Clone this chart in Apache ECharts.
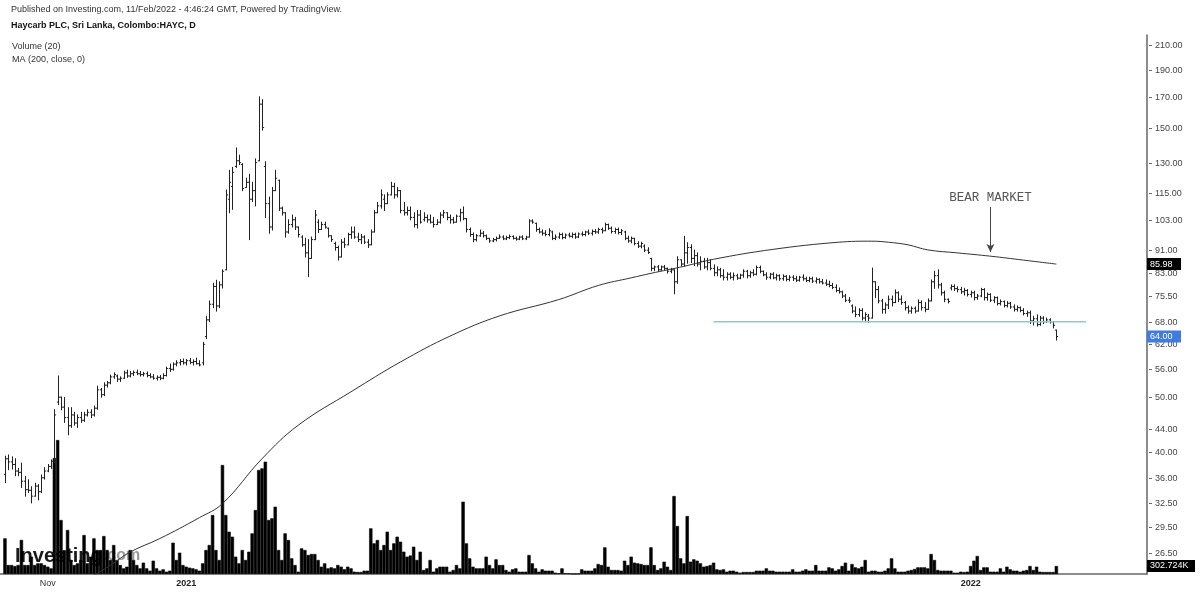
<!DOCTYPE html>
<html><head><meta charset="utf-8">
<script src="https://cdn.jsdelivr.net/npm/echarts@6/dist/echarts.min.js"></script>
<style>html,body{margin:0;padding:0;background:#fff}#c{width:1200px;height:593px}</style>
</head><body><div id="c"></div>
<script>
// ---------- DATA ----------
// daily OHLC bars [open, high, low, close], oldest first
const ohlc = [
[36.5,39.3,35.3,38.9],[38.9,39.5,37.2,38.4],[38.4,39.2,37.3,38.0],[38.0,38.9,36.3,37.0],[37.0,37.4,36.3,36.8],[36.8,38.2,34.6,35.5],[35.5,36.2,33.4,34.3],[34.3,35.7,33.9,34.2],[34.2,34.7,32.5,33.4],[33.4,35.2,33.4,34.8],
[34.8,35.0,32.9,34.0],[34.0,36.4,33.9,36.0],[36.0,37.5,35.8,37.0],[37.0,38.0,36.9,37.7],[37.7,38.7,37.4,38.5],[38.5,47.5,38.3,46.5],[49.0,54.5,48.5,50.0],[50.0,50.0,47.5,48.0],[48.0,49.9,45.1,46.0],[46.0,47.9,42.9,44.5],
[44.5,47.9,44.2,46.5],[46.5,47.0,44.6,45.0],[45.0,46.5,44.2,46.0],[46.0,47.0,45.1,45.5],[45.5,47.0,45.3,46.5],[46.5,47.5,46.3,47.0],[47.0,47.5,46.0,46.5],[46.5,48.2,46.3,47.8],[47.8,52.3,47.6,51.5],[51.5,51.8,50.0,50.5],
[50.5,53.0,50.3,52.5],[52.5,53.3,52.1,53.0],[53.0,54.7,52.8,54.3],[54.3,55.2,54.0,54.8],[54.5,54.7,53.3,53.8],[53.8,54.3,53.3,54.0],[54.0,55.6,54.0,55.2],[55.2,55.8,54.2,54.5],[54.5,55.5,54.3,55.0],[55.0,55.6,54.6,55.3],
[55.3,55.8,54.8,55.0],[55.0,55.5,54.5,54.8],[54.8,55.3,54.5,55.0],[55.0,55.4,54.3,54.6],[54.6,55.0,54.1,54.3],[54.3,54.8,53.8,54.0],[54.0,54.5,53.6,54.2],[54.2,54.6,53.7,54.0],[54.0,55.0,53.9,54.6],[54.6,56.5,54.5,56.2],
[56.2,57.2,55.5,56.0],[56.0,57.5,55.8,57.2],[57.2,58.0,56.8,57.5],[57.5,58.3,57.0,57.8],[57.8,58.4,57.2,57.5],[57.5,58.3,57.0,58.0],[58.0,58.5,57.3,57.6],[57.6,58.2,57.0,57.8],[57.8,58.6,57.2,57.3],[57.3,58.0,56.8,57.0],
[57.5,62.5,57.0,62.0],[64.0,69.5,63.5,68.5],[68.5,74.0,68.0,73.0],[73.0,79.5,72.0,78.5],[78.5,80.5,71.0,72.5],[72.5,80.0,72.0,79.0],[79.0,84.0,78.0,83.5],[84.0,116.3,84.0,114.0],[112.0,126.0,106.0,120.0],[118.0,127.5,107.5,125.0],
[128.0,138.0,127.5,131.0],[131.0,134.0,129.0,130.0],[129.0,129.5,116.0,117.0],[117.5,122.0,117.5,120.0],[120.0,124.0,95.0,112.0],[112.0,120.0,111.0,116.0],[116.0,132.0,109.0,130.0],[131.0,170.0,131.0,165.0],[165.0,168.0,148.5,150.0],[128.0,130.5,104.0,110.0],
[110.0,113.0,97.5,100.0],[100.0,117.5,98.8,116.0],[116.0,126.0,116.0,122.0],[121.0,121.0,107.0,108.0],[108.0,108.5,105.0,106.0],[106.0,106.0,96.0,98.0],[98.0,103.0,97.5,101.0],[101.0,105.0,100.0,103.0],[103.0,104.0,99.0,100.0],[100.0,100.0,96.0,97.0],
[96.0,96.5,92.5,93.0],[93.0,95.5,88.5,90.0],[90.0,95.0,81.7,88.0],[88.0,96.0,88.0,95.0],[95.0,107.0,95.0,105.0],[102.0,103.0,97.8,99.0],[99.0,102.0,99.0,101.0],[101.0,102.0,99.6,100.0],[99.5,99.6,96.0,96.5],[96.5,96.5,94.3,95.0],
[93.5,94.0,91.0,92.0],[92.0,92.5,87.4,88.5],[88.5,95.0,88.5,94.0],[94.0,95.5,92.0,93.0],[93.0,97.5,93.0,97.0],[97.0,100.0,95.5,98.0],[98.0,100.0,95.5,96.0],[96.0,97.5,94.3,95.0],[95.0,97.0,93.5,96.0],[96.0,96.5,93.5,94.0],
[94.0,95.0,92.0,93.0],[93.0,98.8,93.0,98.0],[98.0,107.0,98.0,106.0],[106.0,110.5,106.0,109.0],[109.0,116.3,108.0,114.0],[112.0,114.0,107.0,110.0],[110.0,115.0,110.0,114.0],[114.0,120.0,114.0,118.0],[118.0,119.5,112.5,114.0],[114.0,117.5,113.0,116.0],
[116.0,116.0,106.0,107.0],[107.0,110.5,105.0,106.0],[106.0,108.5,105.0,107.0],[107.0,108.5,103.0,104.0],[104.0,106.0,100.0,101.0],[101.0,107.0,99.6,105.0],[105.0,107.0,101.6,102.0],[103.0,106.0,102.5,104.0],[104.0,105.0,102.0,103.0],[103.0,105.0,101.6,102.0],
[102.0,104.0,100.0,101.0],[101.0,103.0,101.0,102.0],[102.0,106.0,101.6,105.0],[105.0,107.0,104.0,106.0],[106.0,106.0,103.0,104.0],[104.0,105.0,101.6,103.0],[103.0,104.0,101.6,102.0],[102.0,105.0,102.0,104.5],[104.5,107.5,102.5,106.0],[106.0,108.5,103.0,103.5],
[103.5,103.5,98.0,99.0],[99.0,99.6,96.3,97.0],[97.0,97.6,94.2,95.0],[95.0,97.0,94.5,96.5],[96.5,98.8,96.3,97.5],[97.5,98.2,96.0,96.5],[96.5,96.8,95.0,95.5],[95.5,95.5,94.0,94.5],[94.5,95.5,94.2,95.0],[95.0,96.0,94.5,95.5],
[95.5,96.8,95.5,96.0],[96.0,96.5,95.0,95.3],[95.3,96.3,95.0,95.8],[95.8,96.8,95.4,96.2],[96.2,96.5,95.2,95.5],[95.5,96.0,94.8,95.2],[95.2,96.3,95.0,96.0],[96.0,96.5,95.0,95.3],[95.3,96.3,95.0,96.0],[96.0,103.0,96.0,102.5],
[102.5,103.0,101.6,102.0],[101.5,101.6,98.3,99.0],[99.0,99.6,97.6,98.0],[98.0,98.8,96.8,97.5],[97.5,98.5,96.5,97.0],[97.0,99.3,96.5,98.5],[98.0,98.3,95.0,95.5],[95.5,96.8,95.0,96.0],[96.0,97.6,95.5,97.0],[97.0,97.5,95.3,95.8],
[95.8,97.2,95.5,96.8],[96.8,97.5,96.0,96.3],[96.3,97.6,95.8,97.0],[97.0,97.5,95.5,96.0],[96.0,97.6,95.8,97.2],[97.2,98.0,96.5,97.0],[97.0,98.3,96.5,98.0],[98.0,98.8,97.0,97.5],[97.5,98.8,96.8,98.2],[98.2,99.0,97.5,98.0],
[98.0,99.5,97.5,99.0],[99.0,99.6,97.6,98.5],[98.5,101.6,98.5,101.0],[101.0,101.2,99.0,99.5],[99.5,100.0,97.6,98.2],[98.2,99.5,97.5,99.0],[99.0,99.6,97.2,97.8],[97.8,99.0,97.0,98.5],[98.0,98.3,95.0,95.5],[95.5,96.3,94.0,94.5],
[94.5,96.0,93.8,95.5],[95.5,95.5,93.0,93.5],[93.5,94.2,92.0,92.5],[92.5,94.0,91.9,93.5],[92.5,93.0,90.5,91.0],[91.0,91.9,89.8,90.2],[88.0,88.0,83.7,84.5],[84.5,85.3,83.7,85.0],[85.0,85.5,83.5,84.0],[84.0,85.3,83.8,85.0],
[85.0,85.5,84.0,84.5],[84.5,84.6,82.9,83.5],[83.5,84.5,83.0,84.0],[84.0,84.0,76.2,80.0],[80.0,88.6,79.5,87.5],[87.5,87.5,85.3,86.0],[86.0,96.3,85.3,90.0],[90.0,93.8,86.3,92.0],[92.0,93.0,86.5,88.0],[88.0,91.0,85.5,89.0],
[89.0,90.0,85.3,86.0],[86.0,88.6,84.0,87.0],[87.0,88.0,84.5,85.0],[85.0,88.0,84.0,86.5],[86.5,87.5,84.0,84.5],[84.5,85.7,82.0,83.0],[83.0,85.0,82.0,84.0],[84.0,84.5,81.5,82.0],[82.0,84.0,80.6,81.5],[81.5,83.0,80.6,82.5],
[82.5,83.0,81.0,81.5],[81.5,82.9,80.6,82.0],[82.0,82.5,80.8,81.2],[81.2,82.5,81.0,82.2],[82.2,84.0,81.5,83.5],[83.5,83.8,81.3,82.0],[82.0,83.5,81.5,83.0],[83.0,84.0,82.0,82.5],[82.5,85.3,82.3,84.8],[84.8,85.3,83.0,83.5],
[83.5,83.6,82.0,82.3],[82.3,83.0,80.8,81.5],[81.5,82.8,81.0,82.5],[82.5,83.0,81.0,81.3],[81.3,82.5,80.6,82.0],[82.0,82.3,80.5,81.0],[81.0,82.3,80.5,81.8],[81.8,82.0,80.3,80.8],[80.8,82.0,80.3,81.5],[81.5,82.0,80.4,81.0],
[81.0,81.8,80.1,80.5],[80.5,81.8,80.2,81.5],[81.5,82.3,80.5,81.0],[81.0,81.5,80.1,80.4],[80.4,81.5,80.0,81.0],[81.0,81.5,79.8,80.2],[80.2,81.3,79.6,80.8],[80.8,81.0,79.6,80.0],[80.0,80.8,79.3,79.6],[79.6,80.6,78.8,79.2],
[79.2,80.2,78.4,78.8],[78.8,79.5,77.8,78.2],[78.2,79.0,76.8,77.2],[77.2,78.0,76.4,76.8],[76.8,77.0,75.0,75.5],[75.5,76.0,73.8,74.2],[74.2,75.0,73.5,74.0],[72.5,72.8,70.5,71.0],[71.0,72.2,69.4,70.0],[70.0,71.7,69.5,71.2],
[71.2,71.7,68.5,69.0],[69.0,70.5,68.0,70.0],[69.5,70.0,67.8,69.0],[69.0,84.6,69.0,80.0],[80.0,80.0,75.0,77.5],[77.5,78.5,73.4,74.0],[74.0,74.5,70.4,71.5],[71.5,73.4,70.4,72.8],[72.8,75.5,71.7,74.5],[74.5,75.5,72.5,73.5],
[73.5,77.4,73.5,76.5],[76.5,76.8,73.8,74.5],[74.5,75.5,73.0,73.5],[73.5,73.8,71.3,72.0],[72.0,72.5,70.4,71.0],[71.0,72.2,70.4,71.8],[71.8,72.2,70.5,71.0],[71.0,74.3,71.0,73.5],[73.5,74.0,71.3,72.0],[72.0,73.5,70.8,71.5],
[71.5,74.6,71.5,74.0],[74.0,80.6,74.0,80.0],[80.0,83.5,77.9,82.0],[82.0,84.0,78.0,79.0],[79.0,79.5,75.8,76.5],[76.5,77.0,73.8,74.5],[74.5,74.6,73.4,73.8],[78.0,79.0,77.4,78.5],[78.5,79.0,77.2,77.8],[77.8,78.4,76.8,77.5],
[77.5,78.2,76.3,76.8],[76.8,77.9,75.8,77.2],[77.2,77.5,75.5,76.0],[76.0,77.0,75.2,76.5],[76.5,77.0,74.3,75.0],[75.0,76.0,74.5,75.5],[75.5,77.9,75.3,77.5],[77.5,77.8,74.3,75.0],[75.0,76.4,74.2,76.0],[76.0,76.2,73.8,74.2],
[74.2,75.3,73.5,75.0],[75.0,75.2,72.8,73.2],[73.2,74.3,72.8,73.8],[73.8,74.0,72.2,72.6],[72.6,73.8,72.2,73.3],[73.3,73.5,71.8,72.2],[72.2,72.8,71.0,71.5],[71.5,72.5,71.0,72.0],[72.0,72.2,70.8,71.2],[71.2,71.7,69.9,70.3],
[70.3,71.0,69.5,70.5],[70.5,71.0,67.5,68.2],[68.2,69.5,67.1,68.8],[68.8,69.9,66.8,67.2],[67.2,69.5,67.0,69.0],[69.0,69.4,67.5,68.0],[68.0,69.0,67.8,68.5],[68.5,68.8,67.6,68.0],[68.0,68.0,66.3,67.0],[65.7,65.7,63.1,64.0]
];
// daily volume, thousands of shares
const volumeK = [
1350,340,340,300,340,1290,340,340,656,340,
404,404,340,277,214,4390,5070,2043,900,1665,
530,340,404,530,1475,404,656,1349,908,908,
1437,908,530,1097,530,340,214,277,908,530,
340,214,429,214,126,504,214,126,177,88,
126,1185,530,807,340,277,240,214,177,126,
404,908,1097,2232,908,530,4124,2232,1601,1412,
656,404,908,530,845,1538,2421,3934,3997,4250,
2043,2106,2547,908,530,1538,1286,593,340,88,
971,908,719,757,757,530,277,404,214,252,
214,340,277,177,277,214,88,76,76,126,
126,1728,1160,1286,908,1097,1601,908,1160,1412,
1223,845,656,700,1034,530,845,151,214,530,
88,214,277,277,277,88,151,340,214,2736,
1160,593,277,214,214,214,656,340,214,555,
340,340,151,88,177,214,88,88,88,719,
404,214,88,177,126,126,126,50,25,214,
25,25,10,5,10,177,126,126,126,214,
378,340,1009,277,151,151,151,126,504,340,
656,429,404,378,340,340,1009,340,151,214,
467,277,151,2951,1816,593,404,2194,467,555,
504,404,277,303,340,429,177,151,177,88,
126,126,88,50,76,76,76,76,126,126,
126,214,126,126,88,88,88,88,88,177,
88,88,126,177,126,126,340,126,126,126,
252,214,126,177,303,429,126,378,252,214,
277,530,88,126,126,88,88,126,214,593,
214,88,88,88,126,151,189,252,252,252,
214,757,530,151,126,126,126,126,50,50,
88,76,88,303,504,681,151,252,252,88,
88,88,214,88,277,177,126,126,88,126,
151,303,151,277,88,76,76,76,76,302.724
];
// MA(200, close): [bar number, value]
const maPoints = [
[25,23.6],[33,25.2],[39,26.6],[48,28.1],[60,30.6],[67,32.4],[79,38.9],[90,44.6],[106,51.1],[121,57.7],
[136,64.1],[151,69.6],[169,74.4],[181,78.8],[191,81.3],[197,82.8],[207,85.2],[216,87.7],[234,91.3],[254,94.0],
[264,94.4],[269,94.0],[275,93.0],[281,91.1],[290,90.0],[300,88.8],[310,87.4],[320,85.98]
];
// price-scale tick labels
const priceTicks = [210,190,170,150,130,115,103,91,83,75.5,68,62,56,50,44,40,36,32.5,29.5,26.5];
// time-scale ticks: bar number of the tick and its label
const timeTickBars = [14,35,56,89,111,147,169,189,211,232,251,271,294,313,332];
const timeTickLabels = ['Nov','','2021','','','','','','','','','','2022','',''];
// horizontal support line: level and bar span
const supportLevel = 68;
const supportSpan = [216, 329];
// "BEAR MARKET" arrow: bar, start price, end price
const bearArrow = [300, 108.5, 90.3];
const futureSlots = 27;

// ---------- CHART ----------
const slotCount = ohlc.length + 1 + futureSlots;
const categories = [];
for (let i = 0; i < slotCount; i++) categories.push('b' + i);
const tickSet = new Set(timeTickBars);
const labelByIdx = {};
timeTickBars.forEach((b, k) => { if (timeTickLabels[k]) labelByIdx[b] = timeTickLabels[k]; });

const barData = ohlc.map((d, k) => [k + 1, d[0], d[1], d[2], d[3]]);
const volData = volumeK.map((v, k) => [k + 1, v]);
const lastClose = ohlc[ohlc.length - 1][3];
const lastMA = maPoints[maPoints.length - 1][1];
const lastVol = volumeK[volumeK.length - 1];
const FONT = '"Liberation Sans", Arial, sans-serif';

function renderOHLC(params, api) {
  const x = api.value(0);
  const o = api.coord([x, api.value(1)]);
  const h = api.coord([x, api.value(2)]);
  const l = api.coord([x, api.value(3)]);
  const c = api.coord([x, api.value(4)]);
  const cx = Math.round(o[0]) + 0.5;
  const t = 1.6;
  const st = { stroke: '#222', lineWidth: 1 };
  return { type: 'group', children: [
    { type: 'line', shape: { x1: cx, y1: h[1] - 0.5, x2: cx, y2: l[1] + 0.5 }, style: st },
    { type: 'line', shape: { x1: cx - t, y1: o[1], x2: cx, y2: o[1] }, style: st },
    { type: 'line', shape: { x1: cx, y1: c[1], x2: cx + t, y2: c[1] }, style: st }
  ]};
}
function renderPriceTick(params, api) {
  const v = api.value(1);
  const y = Math.round(api.coord([0, v])[1]) + 0.5;
  const xr = params.coordSys.x + params.coordSys.width;
  return { type: 'group', children: [
    { type: 'line', shape: { x1: xr + 2, y1: y, x2: xr + 5, y2: y }, style: { stroke: '#666', lineWidth: 1 } },
    { type: 'text', x: xr + 8, y: y, style: { text: v.toFixed(2), fill: '#444', font: '9px ' + FONT, verticalAlign: 'middle', align: 'left' } }
  ]};
}
function makeBoxRenderer(bg, width, fmt) {
  return function (params, api) {
    const v = api.value(1);
    const y = api.coord([0, v])[1];
    const xr = params.coordSys.x + params.coordSys.width;
    return { type: 'group', children: [
      { type: 'rect', shape: { x: xr, y: y - 6, width: width, height: 12 }, style: { fill: bg } },
      { type: 'text', x: xr + 3, y: y, style: { text: fmt(v), fill: '#fff', font: '9px ' + FONT, verticalAlign: 'middle', align: 'left' } }
    ]};
  };
}

const chart = echarts.init(document.getElementById('c'), null, { renderer: 'canvas' });
chart.setOption({
  animation: false,
  backgroundColor: '#fff',
  grid: { left: 0, right: 53, top: 35, bottom: 19, containLabel: false },
  xAxis: {
    type: 'category', data: categories, boundaryGap: true,
    axisLine: { lineStyle: { color: '#666', width: 1.5 } },
    axisTick: { alignWithLabel: true, length: 4, lineStyle: { color: '#666' }, interval: (i) => tickSet.has(i) },
    axisLabel: {
      interval: (i) => labelByIdx[i] !== undefined, margin: 5,
      formatter: (val, i) => { const s = labelByIdx[i] || ''; return /^\d{4}$/.test(s) ? '{yr|' + s + '}' : s; },
      color: '#333', fontSize: 9, fontFamily: FONT,
      rich: { yr: { fontWeight: 'bold', fontSize: 9, fontFamily: FONT, color: '#222' } }
    },
    splitLine: { show: false }
  },
  yAxis: [
    { type: 'log', logBase: 10, position: 'right', min: 24.32, max: 218.7,
      axisLine: { show: true, lineStyle: { color: '#666', width: 1.5 } },
      axisTick: { show: false }, axisLabel: { show: false }, splitLine: { show: false } },
    { type: 'value', min: 0, max: 20400, show: false, splitLine: { show: false } }
  ],
  graphic: [
    { type: 'text', left: 11, top: 5, style: { text: 'Published on Investing.com, 11/Feb/2022 - 4:46:24 GMT, Powered by TradingView.', font: '9px ' + FONT, fill: '#333' } },
    { type: 'text', left: 11, top: 21, style: { text: 'Haycarb PLC, Sri Lanka, Colombo:HAYC, D', font: 'bold 9px ' + FONT, fill: '#111' } },
    { type: 'text', left: 12, top: 42, style: { text: 'Volume (20)', font: '9px ' + FONT, fill: '#333' } },
    { type: 'text', left: 12, top: 55, style: { text: 'MA (200, close, 0)', font: '9px ' + FONT, fill: '#333' } },
    { type: 'text', left: 15, top: 546, z: 1, style: { text: '{a|Investing}{b|.com}', rich: { a: { font: 'bold 20px ' + FONT, fill: '#1a1a1a' }, b: { font: 'bold 16px ' + FONT, fill: '#999' } } } }
  ],
  series: [
    { type: 'bar', xAxisIndex: 0, yAxisIndex: 1, data: volData, barCategoryGap: '0%', itemStyle: { color: '#000', borderColor: '#000', borderWidth: 0.6 }, silent: true, z: 2 },
    { type: 'custom', yAxisIndex: 0, data: barData, encode: { x: 0, y: [1, 2, 3, 4] }, renderItem: renderOHLC, silent: true, z: 3 },
    { type: 'line', yAxisIndex: 0, data: maPoints, smooth: 0.4, showSymbol: false, lineStyle: { color: '#333', width: 1 }, silent: true, z: 4,
      markLine: { silent: true, symbol: ['none', 'arrow'], symbolSize: [6, 8], lineStyle: { color: '#444', width: 1, type: 'solid' },
        label: { show: true, position: 'start', formatter: 'BEAR MARKET', fontFamily: '"Liberation Mono", "Courier New", monospace', fontSize: 12.5, color: '#555', distance: 3 },
        data: [[{ coord: [bearArrow[0], bearArrow[1]] }, { coord: [bearArrow[0], bearArrow[2]] }]] } },
    { type: 'line', yAxisIndex: 0, data: [[supportSpan[0], supportLevel], [supportSpan[1], supportLevel]], showSymbol: false, lineStyle: { color: '#86cccc', width: 1.5 }, silent: true, z: 4 },
    { type: 'custom', yAxisIndex: 0, data: priceTicks.map(v => [0, v]), encode: { x: 0, y: 1 }, renderItem: renderPriceTick, silent: true, clip: false, z: 6 },
    { type: 'custom', yAxisIndex: 0, data: [[0, lastMA]], encode: { x: 0, y: 1 }, renderItem: makeBoxRenderer('#000', 34, v => v.toFixed(2)), silent: true, clip: false, z: 8 },
    { type: 'custom', yAxisIndex: 0, data: [[0, lastClose]], encode: { x: 0, y: 1 }, renderItem: makeBoxRenderer('#3f7be0', 34, v => v.toFixed(2)), silent: true, clip: false, z: 8 },
    { type: 'custom', yAxisIndex: 1, data: [[0, lastVol]], encode: { x: 0, y: 1 }, renderItem: makeBoxRenderer('#000', 48, v => v.toFixed(3) + 'K'), silent: true, clip: false, z: 8 }
  ]
});
</script></body></html>
